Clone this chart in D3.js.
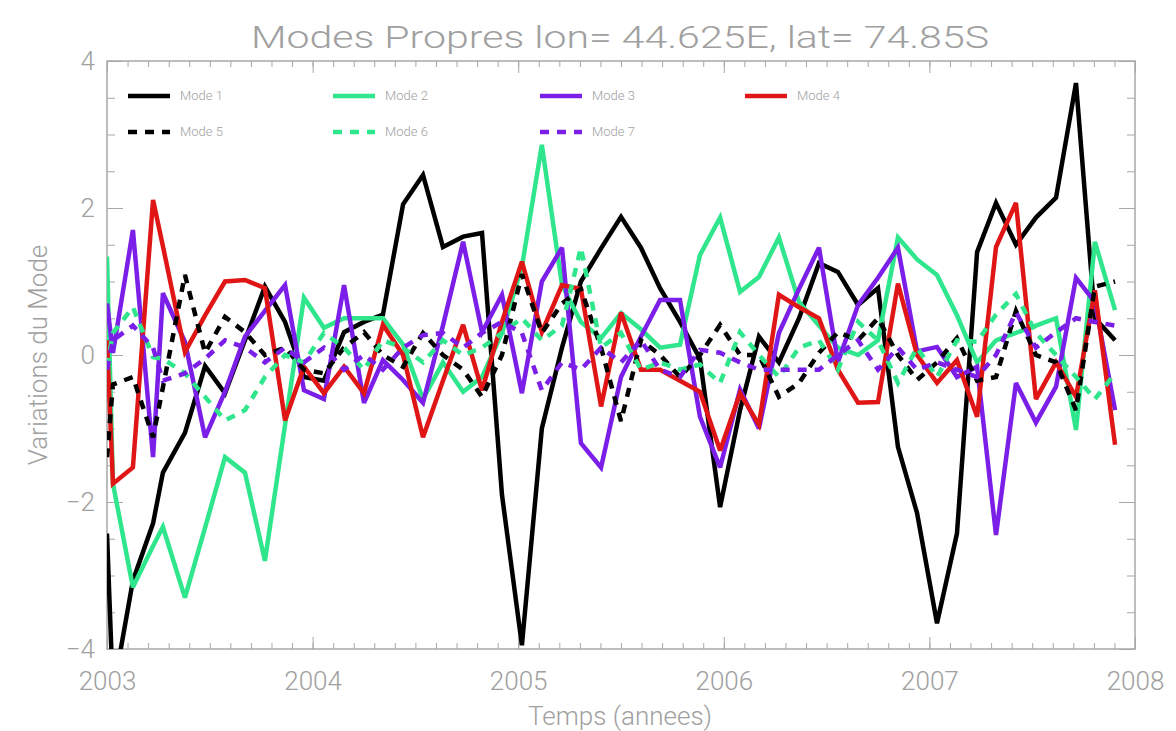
<!DOCTYPE html>
<html><head><meta charset="utf-8">
<script src="https://cdn.jsdelivr.net/npm/d3@7"></script>
<style>html,body{margin:0;padding:0;background:#fff;}svg{display:block;}</style>
</head><body>
<svg id="chart" width="1176" height="731"></svg>
<script>
const times = [2003.000,2003.029,2003.126,2003.224,2003.272,2003.379,2003.477,2003.574,2003.671,2003.768,
2003.866,2003.958,2004.055,2004.153,2004.250,2004.342,2004.440,2004.537,2004.634,2004.732,
2004.824,2004.921,2005.018,2005.115,2005.213,2005.305,2005.403,2005.500,2005.597,2005.690,
2005.787,2005.884,2005.982,2006.079,2006.171,2006.268,2006.366,2006.463,2006.555,2006.653,
2006.750,2006.847,2006.940,2007.037,2007.134,2007.232,2007.324,2007.421,2007.518,2007.616,
2007.713,2007.805,2007.903];
const mode1 = [-2.43,-4.6,-3.07,-2.29,-1.6,-1.06,-0.15,-0.52,0.2,0.93,0.45,-0.3,-0.35,0.31,0.45,0.55,2.05,2.45,1.47,1.61,1.66,-1.9,-3.95,-1.0,0.1,1.0,1.45,1.88,1.46,0.91,0.45,-0.05,-2.07,-0.75,0.25,-0.1,0.5,1.25,1.13,0.68,0.91,-1.25,-2.15,-3.65,-2.43,1.4,2.07,1.5,1.87,2.14,3.7,0.5,0.2];
const mode2 = [1.34,-1.75,-3.16,-2.6,-2.34,-3.3,-2.35,-1.39,-1.6,-2.8,-0.95,0.78,0.37,0.5,0.5,0.5,0.14,-0.6,-0.1,-0.5,-0.3,0.3,1.2,2.86,0.95,0.45,0.23,0.57,0.35,0.1,0.14,1.36,1.87,0.86,1.06,1.6,0.72,0.4,0.1,0.0,0.2,1.6,1.3,1.09,0.54,-0.1,0.2,0.3,0.4,0.5,-1.02,1.54,0.61];
const mode3 = [0.7,0.03,1.7,-1.39,0.84,0.18,-1.12,-0.5,0.25,0.6,0.95,-0.48,-0.6,0.95,-0.65,-0.07,-0.34,-0.65,0.4,1.54,0.31,0.82,-0.52,1.0,1.46,-1.2,-1.53,-0.3,0.25,0.75,0.75,-0.84,-1.53,-0.47,-1.0,0.3,0.9,1.46,-0.1,0.68,1.05,1.46,0.05,0.11,-0.3,-0.16,-2.45,-0.38,-0.92,-0.43,1.05,0.72,-0.75];
const mode4 = [0.2,-1.75,-1.53,2.11,1.48,0.04,0.54,1.0,1.02,0.91,-0.89,-0.16,-0.52,-0.16,-0.52,0.41,0.0,-1.12,-0.35,0.41,-0.48,0.45,1.27,0.31,0.95,0.9,-0.7,0.58,-0.2,-0.2,-0.35,-0.5,-1.3,-0.52,-0.95,0.82,0.65,0.5,-0.2,-0.65,-0.64,0.97,0.0,-0.38,-0.07,-0.84,1.47,2.07,-0.6,-0.1,-0.57,0.88,-1.22];
const mode5 = [-1.39,-0.4,-0.3,-1.12,-0.44,1.09,0.03,0.52,0.31,0.0,0.1,-0.2,-0.25,0.1,0.31,0.0,-0.16,0.3,0.0,-0.2,-0.57,0.0,1.1,0.3,0.7,0.9,0.1,-0.9,0.2,0.0,-0.3,0.0,0.41,0.0,0.0,-0.57,-0.38,0.03,0.31,0.2,0.5,0.0,-0.34,-0.1,0.23,-0.35,-0.3,0.6,0.0,-0.1,-0.75,0.93,1.0];
const mode6 = [-0.16,0.3,0.65,-0.03,-0.05,-0.25,-0.57,-0.89,-0.75,-0.3,0.0,-0.1,0.3,0.1,-0.2,0.2,0.1,-0.1,0.2,0.0,0.1,0.3,0.5,0.2,0.4,1.46,0.1,0.3,-0.2,-0.1,-0.2,-0.13,-0.38,0.31,0.0,-0.3,0.1,0.2,-0.2,0.45,0.2,-0.38,0.1,-0.3,0.2,0.18,0.55,0.83,0.3,0.0,-0.3,-0.6,-0.25];
const mode7 = [-0.2,0.2,0.4,0.1,-0.35,-0.25,-0.05,0.2,0.1,-0.1,0.1,-0.1,0.1,-0.2,0.0,-0.2,0.1,0.27,0.3,0.1,0.3,0.45,0.3,-0.48,-0.1,-0.2,0.1,-0.1,0.2,-0.2,-0.3,0.07,0.03,-0.1,-0.2,-0.2,-0.2,-0.2,0.0,0.2,-0.2,0.1,-0.2,-0.1,-0.2,-0.3,0.0,0.58,0.1,0.31,0.5,0.45,0.4];

const seriesNames = ["Mode 1","Mode 2","Mode 3","Mode 4","Mode 5","Mode 6","Mode 7"];
const seriesColors = ["#000000","#2fe68c","#7a1ee8","#e01616","#000000","#2fe68c","#7a1ee8"];
const seriesDashed = [false,false,false,false,true,true,true];
const seriesValues = [mode1,mode2,mode3,mode4,mode5,mode6,mode7];
const xTicks = [2003,2004,2005,2006,2007,2008];
const yTicks = [-4,-2,0,2,4];

const svg = d3.select("#chart");
const L = 107, R = 1135, T = 61, B = 649;
const x = d3.scaleLinear().domain([2003,2008]).range([L,R]);
const y = d3.scaleLinear().domain([-4,4]).range([B,T]);
const axisCol = "#a8a8a8", textCol = "#a0a0a0";
const FONT = "Roboto, 'DejaVu Sans', sans-serif";
const FW = 300;

svg.append("defs").append("clipPath").attr("id","clip")
  .append("rect").attr("x",L).attr("y",T).attr("width",R-L).attr("height",B-T);

// title
svg.append("text").attr("x",620).attr("y",48).attr("text-anchor","middle")
  .attr("font-family",FONT).attr("font-weight",FW).attr("font-size",31)
  .attr("fill",textCol).attr("textLength",738).attr("lengthAdjust","spacingAndGlyphs")
  .text("Modes Propres lon= 44.625E, lat= 74.85S");

// frame
svg.append("rect").attr("x",L).attr("y",T).attr("width",R-L).attr("height",B-T)
  .attr("fill","none").attr("stroke",axisCol).attr("stroke-width",1.5);

// axes via d3
const minorX = d3.range(2003,2008.001,0.1).map(v=>+v.toFixed(1));
const minorY = d3.range(-4,4.001,0.5);
const bottomMinor = d3.axisBottom(x).tickValues(minorX).tickSize(-6).tickFormat("");
const bottomMajor = d3.axisBottom(x).tickValues(xTicks).tickSize(-12).tickFormat(d3.format("d")).tickPadding(23);
const topMinor = d3.axisTop(x).tickValues(minorX).tickSize(-6).tickFormat("");
const topMajor = d3.axisTop(x).tickValues(xTicks).tickSize(-12).tickFormat("");
const leftMinor = d3.axisLeft(y).tickValues(minorY).tickSize(-8).tickFormat("");
const leftMajor = d3.axisLeft(y).tickValues(yTicks).tickSize(-16).tickFormat(d=>d<0?"\u2212"+Math.abs(d):d).tickPadding(12);
const rightMinor = d3.axisRight(y).tickValues(minorY).tickSize(-8).tickFormat("");
const rightMajor = d3.axisRight(y).tickValues(yTicks).tickSize(-16).tickFormat("");

function styleAxis(g){
  g.select(".domain").remove();
  g.selectAll(".tick line").attr("stroke",axisCol).attr("stroke-width",1);
  g.selectAll(".tick text").attr("fill",textCol).attr("font-family",FONT)
    .attr("font-weight",FW).attr("font-size",26);
}
svg.append("g").attr("transform",`translate(0,${B})`).call(bottomMinor).call(styleAxis);
svg.append("g").attr("transform",`translate(0,${B})`).call(bottomMajor).call(styleAxis);
svg.append("g").attr("transform",`translate(0,${T})`).call(topMinor).call(styleAxis);
svg.append("g").attr("transform",`translate(0,${T})`).call(topMajor).call(styleAxis);
svg.append("g").attr("transform",`translate(${L},0)`).call(leftMinor).call(styleAxis);
svg.append("g").attr("transform",`translate(${L},0)`).call(leftMajor).call(styleAxis);
svg.append("g").attr("transform",`translate(${R},0)`).call(rightMinor).call(styleAxis);
svg.append("g").attr("transform",`translate(${R},0)`).call(rightMajor).call(styleAxis);

// axis titles
svg.append("text").attr("x",620).attr("y",725).attr("text-anchor","middle")
  .attr("font-family",FONT).attr("font-weight",FW).attr("font-size",26)
  .attr("fill",textCol).text("Temps (annees)");
svg.append("text").attr("transform","translate(47,355) rotate(-90)").attr("text-anchor","middle")
  .attr("font-family",FONT).attr("font-weight",FW).attr("font-size",26)
  .attr("fill",textCol).text("Variations du Mode");

// series
const line = d3.line().x((d,i)=>x(times[i])).y(d=>y(d));
const plot = svg.append("g").attr("clip-path","url(#clip)");
seriesValues.forEach((vals,k)=>{
  plot.append("path").datum(vals).attr("d",line)
    .attr("fill","none").attr("stroke",seriesColors[k]).attr("stroke-width",4.5)
    .attr("stroke-linejoin","miter").attr("stroke-miterlimit",3)
    .attr("stroke-dasharray",seriesDashed[k]?"9,8":null);
});

// legend
const legX = [128,333,540,745];
const legY = [96,132];
seriesNames.forEach((name,k)=>{
  const col = k%4, row = Math.floor(k/4);
  const gx = legX[col], gy = legY[row];
  svg.append("line").attr("x1",gx).attr("x2",gx+42).attr("y1",gy).attr("y2",gy)
    .attr("stroke",seriesColors[k]).attr("stroke-width",4.5)
    .attr("stroke-dasharray",seriesDashed[k]?"9,8":null);
  svg.append("text").attr("x",gx+52).attr("y",gy+4).attr("font-family",FONT)
    .attr("font-weight",FW).attr("font-size",13).attr("fill",textCol).text(name);
});
</script>
</body></html>
